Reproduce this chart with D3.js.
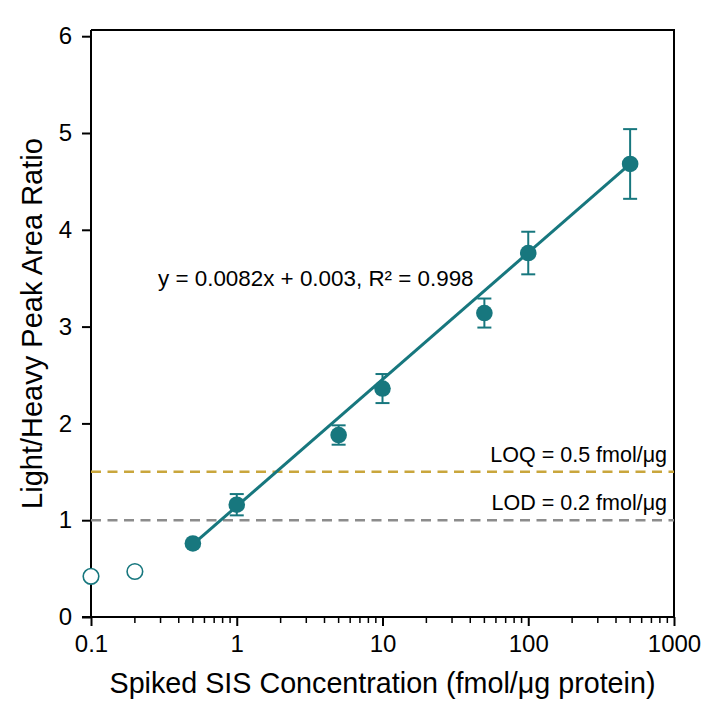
<!DOCTYPE html>
<html>
<head>
<meta charset="utf-8">
<script src="https://cdn.jsdelivr.net/npm/d3@7"></script>
<style>
  body { margin: 0; background: #fff; }
  text { font-family: "Liberation Sans", Arial, sans-serif; fill: #000; }
</style>
</head>
<body>
<svg id="chart" width="717" height="717"></svg>
<script>
// --- data ---
const openConc = [0.1, 0.2];
const openRatio = [0.42, 0.47];

const conc = [0.5, 1, 5, 10, 50, 100, 500];
const ratio = [0.76, 1.16, 1.88, 2.36, 3.14, 3.76, 4.68];
const errs = [0, 0.11, 0.1, 0.15, 0.15, 0.22, 0.36];

// fitted line end points (straight on the log axis)
const fitConc = [0.5, 500];
const fitRatio = [0.75, 4.68];

const xTicks = [0.1, 1, 10, 100, 1000];
const yTicks = [0, 1, 2, 3, 4, 5, 6];

const limits = [
    { label: "LOQ = 0.5 fmol/μg", value: 1.5, color: "#c9a63c" },
    { label: "LOD = 0.2 fmol/μg", value: 1.0, color: "#8c8c8c" }
];

const equation = "y = 0.0082x + 0.003, R² = 0.998";
const teal = "#17777e";

// --- layout ---
const svg = d3.select("#chart");
const M = { left: 91, right: 674, top: 30, bottom: 617 };

const x = d3.scaleLog().domain([0.1, 1000]).range([M.left, M.right]);
const y = d3.scaleLinear().domain([0, 6]).range([M.bottom, 36.2]);

// frame (top + right)
svg.append("path")
    .attr("d", `M${M.left},${M.top}H${M.right}V${M.bottom}`)
    .attr("fill", "none").attr("stroke", "#000").attr("stroke-width", 2);

// left axis line
svg.append("line")
    .attr("x1", M.left).attr("x2", M.left).attr("y1", M.top).attr("y2", M.bottom)
    .attr("stroke", "#000").attr("stroke-width", 2);

// y axis
const yAxis = svg.append("g")
    .attr("transform", `translate(${M.left},0)`)
    .call(d3.axisLeft(y).tickValues(yTicks).tickFormat(d3.format("d")).tickSize(9).tickPadding(10));
yAxis.select(".domain").remove();
yAxis.selectAll("line").attr("stroke-width", 2);
yAxis.selectAll("text").attr("font-size", 24).attr("font-family", "Liberation Sans, Arial, sans-serif");

// x axis minor ticks
const minor = [];
[0.1, 1, 10, 100].forEach(d => {
    for (let k = 2; k <= 9; k++) minor.push(d * k);
});
svg.append("g").selectAll("line").data(minor).join("line")
    .attr("x1", d => x(d)).attr("x2", d => x(d))
    .attr("y1", M.bottom).attr("y2", M.bottom + 6)
    .attr("stroke", "#000").attr("stroke-width", 1.5);

const xAxis = svg.append("g")
    .attr("transform", `translate(0,${M.bottom})`)
    .call(d3.axisBottom(x).tickValues(xTicks).tickFormat(d => String(d)).tickSize(9).tickPadding(9));
xAxis.select(".domain").attr("stroke-width", 2).attr("d", `M${M.left - 9},0H${M.right}`);
xAxis.selectAll("line").attr("stroke-width", 2);
xAxis.selectAll("text").attr("font-size", 24).attr("font-family", "Liberation Sans, Arial, sans-serif");

// axis titles
svg.append("text")
    .attr("x", (M.left + M.right) / 2).attr("y", 693)
    .attr("text-anchor", "middle").attr("font-size", 28.7)
    .text("Spiked SIS Concentration (fmol/μg protein)");

svg.append("text")
    .attr("transform", `translate(42,${(M.top + M.bottom) / 2}) rotate(-90)`)
    .attr("text-anchor", "middle").attr("font-size", 29)
    .text("Light/Heavy Peak Area Ratio");

// LOQ / LOD lines
limits.forEach(l => {
    svg.append("line")
        .attr("x1", M.left).attr("x2", M.right)
        .attr("y1", y(l.value)).attr("y2", y(l.value))
        .attr("stroke", l.color).attr("stroke-width", 2.5)
        .attr("stroke-dasharray", "10,6.5");
    svg.append("text")
        .attr("x", M.right - 7).attr("y", y(l.value) - 10)
        .attr("text-anchor", "end").attr("font-size", 21.5)
        .text(l.label);
});

// fit line
svg.append("line")
    .attr("x1", x(fitConc[0])).attr("y1", y(fitRatio[0]))
    .attr("x2", x(fitConc[1])).attr("y2", y(fitRatio[1]))
    .attr("stroke", teal).attr("stroke-width", 3);

// error bars
const pts = conc.map((c, i) => ({ c, r: ratio[i], e: errs[i] }));
const eb = svg.append("g").attr("stroke", teal).attr("stroke-width", 2);
pts.filter(p => p.e > 0).forEach(p => {
    eb.append("line").attr("x1", x(p.c)).attr("x2", x(p.c))
        .attr("y1", y(p.r + p.e)).attr("y2", y(p.r - p.e));
    [p.r + p.e, p.r - p.e].forEach(v => {
        eb.append("line").attr("x1", x(p.c) - 7).attr("x2", x(p.c) + 7)
            .attr("y1", y(v)).attr("y2", y(v));
    });
});

// points
svg.append("g").selectAll("circle").data(pts).join("circle")
    .attr("cx", d => x(d.c)).attr("cy", d => y(d.r)).attr("r", 8.3)
    .attr("fill", teal);

svg.append("g").selectAll("circle").data(openConc).join("circle")
    .attr("cx", d => x(d)).attr("cy", (d, i) => y(openRatio[i])).attr("r", 7.8)
    .attr("fill", "#fff").attr("stroke", teal).attr("stroke-width", 1.6);

// equation
svg.append("text")
    .attr("x", 158).attr("y", 286).attr("font-size", 22.4)
    .text(equation);
</script>
</body>
</html>
